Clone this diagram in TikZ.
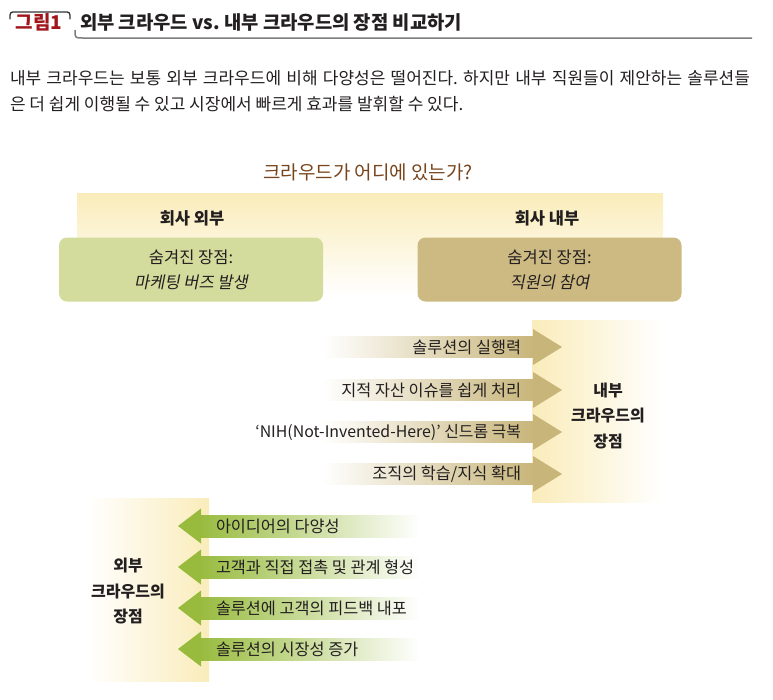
\documentclass[tikz,border=0pt]{standalone}
\usepackage{fontspec}
\setmainfont{Noto Sans CJK KR}
\newfontfamily\krslant[FakeSlant=0.2]{Noto Sans CJK KR}
\frenchspacing
\definecolor{ink}{RGB}{35,31,32}
\definecolor{figred}{RGB}{160,22,28}
\definecolor{titlebrown}{RGB}{120,68,28}
\definecolor{bandyellow}{RGB}{250,236,186}
\definecolor{greenbox}{RGB}{211,220,157}
\definecolor{tanbox}{RGB}{205,186,131}
\definecolor{tanarrow}{RGB}{200,181,122}
\definecolor{greenarrow}{RGB}{152,187,62}
\definecolor{rulegray}{RGB}{125,125,125}
\tikzset{
  base/.style={inner sep=0pt, outer sep=0pt, text=ink},
  arrtxt/.style={base, font=\fontsize{16.3}{19}\selectfont},
  sidelbl/.style={base, align=center, font=\bfseries\fontsize{16}{25.5}\selectfont},
  hdr/.style={base, font=\bfseries\fontsize{16.5}{19}\selectfont},
  boxnode/.style={base, rounded corners=8pt, minimum width=264pt, minimum height=64pt, align=center, font=\fontsize{16.5}{25}\selectfont},
  para/.style={base, anchor=west, font=\fontsize{17}{19}\selectfont},
}
\begin{document}
\begin{tikzpicture}[x=1pt,y=-1pt]
\useasboundingbox (0,0) rectangle (773,699);
% header
\draw[line width=1.3pt, black!80, line cap=round] (10,19) .. controls (10,12) .. (16,12) -- (64,12) .. controls (70,12) .. (70,19);
\node[base, text=figred, font=\bfseries\fontsize{19}{22}\selectfont] (fig) at (39,22) {그림1};
\node[base, anchor=west, font=\bfseries\fontsize{18.8}{22}\selectfont] (head) at (80,22) {외부 크라우드 vs. 내부 크라우드의 장점 비교하기};
\draw[line width=1.5pt, rulegray] (75,30) .. controls (75,38) .. (83,38) -- (752,38);
% paragraph
\node[para] (p1) at (10,78) {\makebox[740pt][s]{내부 크라우드는 보통 외부 크라우드에 비해 다양성은 떨어진다. 하지만 내부 직원들이 제안하는 솔루션들}};
\node[para] (p2) at (10,104) {은 더 쉽게 이행될 수 있고 시장에서 빠르게 효과를 발휘할 수 있다.};
% question
\node[base, text=titlebrown, font=\fontsize{19}{22}\selectfont] (q) at (368,172) {크라우드가 어디에 있는가?};
\shade[top color=bandyellow, bottom color=white] (77,193) rectangle (663,296);
\node[hdr] (outside) at (192,218) {회사 외부};
\node[hdr] (inside) at (547,218) {회사 내부};
\node[boxnode, fill=greenbox] (gbox) at (191,269.5) {숨겨진 장점:\\{\krslant 마케팅 버즈 발생}};
\node[boxnode, fill=tanbox] (tbox) at (549.5,269.5) {숨겨진 장점:\\{\krslant 직원의 참여}};
% right section
\shade[left color=bandyellow, right color=white] (532,320) rectangle (663,502);
\foreach \yy in {347,390,432,474}{
  \shade[left color=white, right color=tanarrow] (322,\yy-10.5) rectangle (534,\yy+10.5);
  \fill[tanarrow] (533,\yy-18) -- (562,\yy) -- (533,\yy+18) -- cycle;
}
\node[arrtxt, anchor=east] (r1) at (521,347) {솔루션의 실행력};
\node[arrtxt, anchor=east] (r2) at (521,390) {지적 자산 이슈를 쉽게 처리};
\node[arrtxt, anchor=east, font=\fontsize{15.9}{19}\selectfont] (r3) at (521,432) {‘NIH(Not-Invented-Here)’ 신드롬 극복};
\node[arrtxt, anchor=east] (r4) at (521,474) {조직의 학습/지식 확대};
\node[sidelbl] (inlbl) at (608,416) {내부\\크라우드의\\장점};
% lower-left section
\shade[left color=white, right color=bandyellow] (87,498) rectangle (209,681);
\foreach \yy in {526,567,608,649}{
  \shade[left color=greenarrow, right color=white] (199,\yy-11) rectangle (420,\yy+11);
  \fill[greenarrow] (178,\yy) -- (201,\yy-17.5) -- (201,\yy+17.5) -- cycle;
}
\node[arrtxt, anchor=west] (l1) at (216,526) {아이디어의 다양성};
\node[arrtxt, anchor=west] (l2) at (216,567) {고객과 직접 접촉 및 관계 형성};
\node[arrtxt, anchor=west] (l3) at (216,608) {솔루션에 고객의 피드백 내포};
\node[arrtxt, anchor=west] (l4) at (216,649) {솔루션의 시장성 증가};
\node[sidelbl] (outlbl) at (128,591) {외부\\크라우드의\\장점};
\end{tikzpicture}
\end{document}
